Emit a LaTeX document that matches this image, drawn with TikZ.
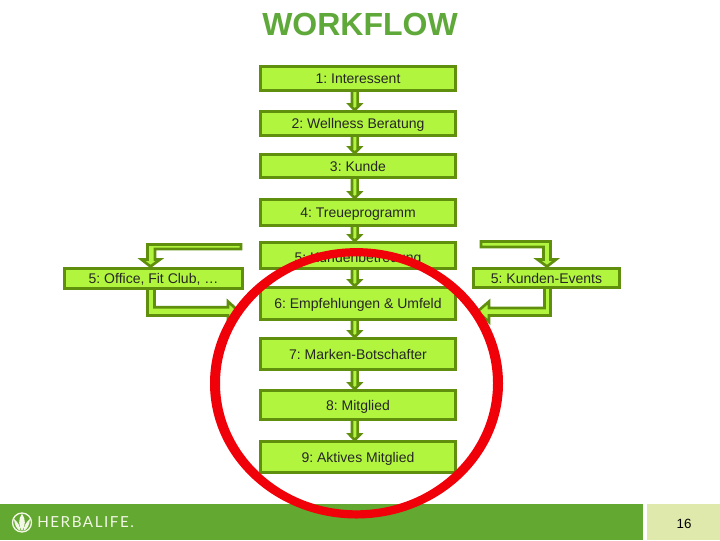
\documentclass[tikz,border=0pt]{standalone}
\usepackage{fontspec}
\setmainfont{Liberation Sans}
\newfontfamily\logofont[LetterSpace=10]{Lato}
\usetikzlibrary{calc}
\definecolor{boxfill}{HTML}{B2F53F}
\definecolor{boxline}{HTML}{5F8F0C}
\definecolor{titlegreen}{HTML}{5FA83A}
\definecolor{footgreen}{HTML}{63A830}
\definecolor{footlight}{HTML}{DFE9AB}
\definecolor{ringred}{HTML}{F00008}
\definecolor{logowhite}{HTML}{F2F7E6}
\tikzset{
  x=0.75pt,y=-0.75pt,
  flowbox/.style={draw=boxline,fill=boxfill,line width=2.25pt,inner sep=0pt,outer sep=0pt,
    font=\frenchspacing\fontsize{10.5pt}{12pt}\selectfont,text=black!85,text height=0.8em,text depth=0em},
  blockarrow/.style={draw=boxline,fill=boxfill,line width=2pt,line join=miter},
}
% name, x1, y1, x2, y2, text (outer pixel edges)
\newcommand{\flowbox}[6]{\node[flowbox,minimum width={(#4-#2-3)*0.75pt},minimum height={(#5-#3-3)*0.75pt}] (#1) at ({(#2+#4)/2},{(#3+#5)/2}) {#6};}
% straight block arrow from box to box
\newcommand{\blockdown}[2]{\draw[blockarrow]
  ($(#1.south)+(-6,0)$) -- ($(#1.south)+(-0.4,0)$) -- ($(#2.north)+(-0.4,-7)$) -- ($(#2.north)+(2.2,-7)$)
  -- ($(#2.north)+(-3.2,-1.5)$) -- ($(#2.north)+(-8.6,-7)$) -- ($(#2.north)+(-6,-7)$) -- cycle;}
\begin{document}
\begin{tikzpicture}
\useasboundingbox (0,0) rectangle (720,540);
\fill[white] (0,0) rectangle (720,540);
% footer
\fill[footgreen] (0,504) rectangle (643,540);
\fill[footlight] (647,504) rectangle (720,540);
\node[font=\fontsize{10pt}{12pt}\selectfont,text=black] (page) at (684,524) {16};
% logo
\draw[logowhite,line width=1pt] (22,522.5) circle (9.5);
\fill[logowhite] (22,513.5) .. controls (18,519) and (18.5,526) .. (22,531) .. controls (25.5,526) and (26,519) .. (22,513.5) -- cycle;
\fill[logowhite] (14,519) .. controls (14.5,525) and (16.5,529) .. (20.5,531) .. controls (20,526) and (18,522) .. (14,519) -- cycle;
\fill[logowhite] (30,519) .. controls (29.5,525) and (27.5,529) .. (23.5,531) .. controls (24,526) and (26,522) .. (30,519) -- cycle;
\node[anchor=west,inner sep=0pt,text=logowhite,font=\logofont\fontsize{11.4pt}{14pt}\selectfont] (logo) at (37,522.5) {HERBALIFE.};
% title
\node[font=\fontsize{24pt}{28pt}\selectfont\bfseries,text=titlegreen] (title) at (360,24) {WORKFLOW};
% boxes
\flowbox{b1}{259}{65}{457}{92}{1: Interessent}
\flowbox{b2}{259}{110}{457}{137}{2: Wellness Beratung}
\flowbox{b3}{259}{153}{457}{179}{3: Kunde}
\flowbox{b4}{259}{198}{457}{227}{4: Treueprogramm}
\flowbox{b5}{259}{241}{457}{270}{\raisebox{-1.1pt}{5: Kundenbetreuung}}
\flowbox{b6}{259}{286}{457}{321}{6: Empfehlungen \& Umfeld}
\flowbox{b7}{259}{337}{457}{371}{7: Marken-Botschafter}
\flowbox{b8}{259}{389}{457}{421}{8: Mitglied}
\flowbox{b9}{259}{440}{457}{474}{9: Aktives Mitglied}
\flowbox{left}{63}{267}{244}{290}{5: Office, Fit Club, \dots}
\flowbox{right}{472}{267}{621}{289}{5: Kunden-Events}
% straight arrows
\blockdown{b1}{b2}
\blockdown{b2}{b3}
\blockdown{b3}{b4}
\blockdown{b4}{b5}
\blockdown{b5}{b6}
\blockdown{b6}{b7}
\blockdown{b7}{b8}
\blockdown{b8}{b9}
% bent arrows
\coordinate (lfree) at (241,244.5);
\coordinate (rfree) at (481,241.5);
\draw[blockarrow] (lfree) -- (147.5,244.5) -- (147.5,259.5) -- (141.5,259.5) -- ($(left.north)+(-3,-2)$) -- (160,259.5) -- (155,259.5) -- (155,249) -- (241,249) -- cycle;
\draw[blockarrow] ($(left.south)+(1,0)$) -- (154.5,307.3) -- (228,307.3) -- (228,301.5) -- ($(b6.west)+(-21.5,8)$) -- (228,322) -- (228,315.5) -- (147.5,315.5) -- ($(left.south)+(-6,0)$) -- cycle;
\draw[blockarrow] (rfree) -- (550.5,241.5) -- (550.5,259.5) -- (556,259.5) -- ($(right.north)+(0.5,-2)$) -- (537.5,259.5) -- (543.5,259.5) -- (543.5,247) -- (481,247) -- cycle;
\draw[blockarrow] ($(right.south)+(4,0)$) -- (550.5,315.5) -- (489,315.5) -- (489,322) -- ($(b6.east)+(22,8)$) -- (489,301.5) -- (489,308) -- (544.5,308) -- ($(right.south)+(-2,0)$) -- cycle;
% ring
\fill[ringred,even odd rule] (356.5,383.3) ellipse [x radius=146.5,y radius=135.2] (356.5,383.3) ellipse [x radius=136.5,y radius=127];
\end{tikzpicture}
\end{document}
